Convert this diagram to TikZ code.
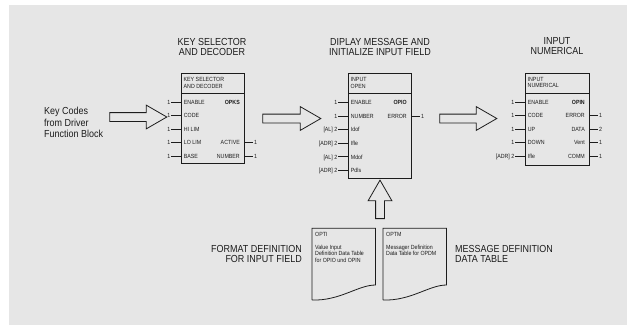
\documentclass[tikz,border=0pt]{standalone}
\usepackage{fontspec}
\setmainfont{Liberation Sans}
\newfontfamily\condfont[FakeStretch=0.88]{Liberation Sans}
\usetikzlibrary{shapes.arrows}
\definecolor{fond}{HTML}{E6E6E6}
\definecolor{trait}{HTML}{1C1C1C}
\tikzset{
  titre/.style={font=\condfont\fontsize{10.2}{10.2}\selectfont, align=center, inner sep=0pt, text=trait},
  bloc/.style={draw=trait, line width=0.9pt, anchor=north west, inner sep=0pt, minimum width=63pt},
  broche/.style={font=\condfont\fontsize{6}{6.5}\selectfont, inner sep=0pt, text height=4.3pt, text depth=0pt, text=trait},
  brochegras/.style={broche, font=\condfont\bfseries\fontsize{6}{6.5}\selectfont},
  entete/.style={font=\condfont\fontsize{6}{6.1}\selectfont, align=left, anchor=north west, inner sep=0pt, text=trait},
  fil/.style={draw=trait, line width=0.9pt},
  grossefleche/.style={single arrow, draw=trait, line width=0.8pt, inner sep=4pt,
    single arrow head extend=7.5pt, single arrow tip angle=60},
  feuille/.style={draw=trait, line width=0.8pt},
}
\begin{document}
\begin{tikzpicture}[x=1pt, y=-1pt]
  \useasboundingbox (0,0) rectangle (627,325);
  \fill[fond] (9,5) rectangle (627,325);

  % Titres
  \node[titre] (titreopks) at (212,46.6) {KEY SELECTOR\\AND DECODER};
  \node[titre] (titreopio) at (380,46.6) {DIPLAY MESSAGE AND\\INITIALIZE INPUT FIELD};
  \node[titre] (titreopin) at (557,45.8) {INPUT\\NUMERICAL};
  \node[titre, align=left, anchor=west, font=\condfont\fontsize{10.2}{11.2}\selectfont] (codes) at (44,122.5)
    {Key Codes\\from Driver\\Function Block};

  % Bloc OPKS
  \node[bloc, minimum height=90.3pt] (opks) at (181,73) {};
  \draw[fil] ([yshift=-20.3pt]opks.north west) -- ([yshift=-20.3pt]opks.north east);
  \node[entete] (opksT) at ([xshift=2.5pt, yshift=-4.6pt]opks.north west) {KEY SELECTOR\\AND DECODER};
  \foreach \i/\nom/\val in {1/ENABLE/1, 2/CODE/1, 3/HI LIM/1, 4/LO LIM/1, 5/BASE/1} {
    \node[broche, anchor=west] (opksE\i) at (183.7,{102+13.6*(\i-1)}) {\nom};
    \node[broche, anchor=east] (opksV\i) at (170.5,{102+13.6*(\i-1)}) {\val};
    \draw[fil] ([xshift=0.8pt]opksV\i.east) -- (opksV\i -| opks.west);
  }
  \node[brochegras, anchor=east] (opksS1) at (240,102) {OPKS};
  \foreach \i/\nom/\val in {4/ACTIVE/1, 5/NUMBER/1} {
    \node[broche, anchor=east] (opksS\i) at (240,{102+13.6*(\i-1)}) {\nom};
    \node[broche, anchor=west] (opksW\i) at (254,{102+13.6*(\i-1)}) {\val};
    \draw[fil] (opksS\i -| opks.east) -- ([xshift=-0.8pt]opksW\i.west);
  }

  % Bloc OPIO
  \node[bloc, minimum height=105pt] (opio) at (348,73.3) {};
  \draw[fil] ([yshift=-20pt]opio.north west) -- ([yshift=-20pt]opio.north east);
  \node[entete, font=\condfont\fontsize{6}{6.8}\selectfont] (opioT) at ([xshift=2.5pt, yshift=-4.3pt]opio.north west) {INPUT\\OPEN};
  \foreach \i/\nom/\val in {1/ENABLE/1, 2/NUMBER/1, 3/Idof/{[AL] 2}, 4/Ifle/{[ADR] 2}, 5/Mdof/{[AL] 2}, 6/Pdls/{[ADR] 2}} {
    \node[broche, anchor=west] (opioE\i) at (350.7,{102.5+13.6*(\i-1)}) {\nom};
    \node[broche, anchor=east] (opioV\i) at (337.5,{102.5+13.6*(\i-1)}) {\val};
    \draw[fil] ([xshift=0.8pt]opioV\i.east) -- (opioV\i -| opio.west);
  }
  \node[brochegras, anchor=east] (opioS1) at (407,102.5) {OPIO};
  \node[broche, anchor=east] (opioS2) at (407,116.1) {ERROR};
  \node[broche, anchor=west] (opioW2) at (421,116.1) {1};
  \draw[fil] (opioS2 -| opio.east) -- ([xshift=-0.8pt]opioW2.west);

  % Bloc OPIN
  \node[bloc, minimum width=64pt, minimum height=92pt] (opin) at (525,72.7) {};
  \draw[fil] ([yshift=-20.6pt]opin.north west) -- ([yshift=-20.6pt]opin.north east);
  \node[entete] (opinT) at ([xshift=2.5pt, yshift=-4.3pt]opin.north west) {INPUT\\NUMERICAL};
  \foreach \i/\nom/\val in {1/ENABLE/1, 2/CODE/1, 3/UP/1, 4/DOWN/1, 5/Ifle/{[ADR] 2}} {
    \node[broche, anchor=west] (opinE\i) at (527.7,{102+13.6*(\i-1)}) {\nom};
    \node[broche, anchor=east] (opinV\i) at (514.5,{102+13.6*(\i-1)}) {\val};
    \draw[fil] ([xshift=0.8pt]opinV\i.east) -- (opinV\i -| opin.west);
  }
  \node[brochegras, anchor=east] (opinS1) at (585,102) {OPIN};
  \foreach \i/\nom/\val in {2/ERROR/1, 3/DATA/2, 4/Vent/1, 5/COMM/1} {
    \node[broche, anchor=east] (opinS\i) at (585,{102+13.6*(\i-1)}) {\nom};
    \node[broche, anchor=west] (opinW\i) at (599,{102+13.6*(\i-1)}) {\val};
    \draw[fil] (opinS\i -| opin.east) -- ([xshift=-0.8pt]opinW\i.west);
  }

  % Grosses fleches
  \node[grossefleche, minimum height=57pt] (flecheA) at (134.5,117) {};
  \node[grossefleche, minimum height=58pt] (flecheB) at (288,118.5) {};
  \node[grossefleche, minimum height=57pt] (flecheC) at (464.5,118.5) {};
  \node[grossefleche, minimum height=38.5pt, rotate=90] (flecheD) at (380,203.2) {};

  % Tables de donnees
  \foreach \x/\nom in {312/opti, 383/optm} {
    \draw[feuille] (\x,300) -- (\x,228.3) -- (\x+63.5,228.3) -- (\x+63.5,285)
      .. controls (\x+46,285) and (\x+28,301) .. (\x,300);
  }
  \node[broche, anchor=west] (optiN) at (315,234.7) {OPTI};
  \node[entete, font=\condfont\fontsize{6}{6.7}\selectfont] (optiT) at (315,244.6)
    {Value Input\\Definition Data Table\\for OPIO und OPIN};
  \node[broche, anchor=west] (optmN) at (386,234.7) {OPTM};
  \node[entete, font=\condfont\fontsize{6}{6.7}\selectfont] (optmT) at (386,244.6)
    {Messager Definition\\Data Table for OPDM};

  \node[titre, align=right, anchor=east] (formatdef) at (302,253.8) {FORMAT DEFINITION\\FOR INPUT FIELD};
  \node[titre, align=left, anchor=west] (messagedef) at (455,253.8) {MESSAGE DEFINITION\\DATA TABLE};
\end{tikzpicture}
\end{document}
